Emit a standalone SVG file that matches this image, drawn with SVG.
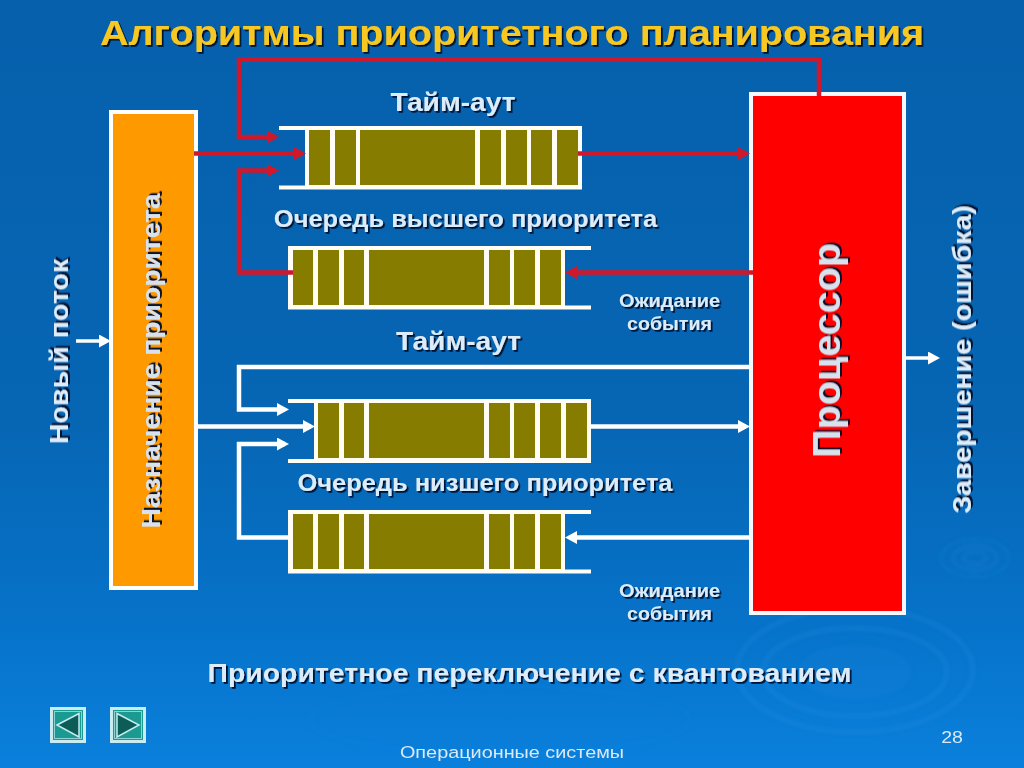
<svg xmlns="http://www.w3.org/2000/svg" width="1024" height="768" viewBox="0 0 1024 768">
<defs>
<linearGradient id="bg" x1="0" y1="0" x2="0" y2="1">
<stop offset="0" stop-color="#0660ac"/><stop offset="0.55" stop-color="#0666b4"/><stop offset="0.8" stop-color="#0672c8"/><stop offset="1" stop-color="#0a80dc"/>
</linearGradient>
<filter id="sh" x="-10%" y="-20%" width="120%" height="140%"><feDropShadow dx="1.6" dy="1.8" stdDeviation="0.5" flood-color="#00102c" flood-opacity="0.95"/></filter>
<filter id="shv" x="-30%" y="-10%" width="160%" height="120%"><feDropShadow dx="2" dy="2" stdDeviation="0.5" flood-color="#00102c" flood-opacity="0.95"/></filter>
<filter id="soft" x="-10%" y="-10%" width="120%" height="120%"><feGaussianBlur stdDeviation="2"/></filter>
<marker id="ar" markerUnits="userSpaceOnUse" markerWidth="13" markerHeight="14" refX="8" refY="6.5" orient="auto"><path d="M0 0L12 6.5L0 13Z" fill="#d0182c"/></marker>
<marker id="aw" markerUnits="userSpaceOnUse" markerWidth="13" markerHeight="14" refX="8" refY="6.5" orient="auto"><path d="M0 0L12 6.5L0 13Z" fill="#fff"/></marker>
</defs>
<style>
text{font-family:"Liberation Sans",Arial,sans-serif;font-weight:bold;fill:#dcecfa;text-anchor:middle}
.s{filter:url(#sh)}
.v{filter:url(#shv)}
.red{fill:none;stroke:#d0182c;stroke-width:4.5}
.wh{fill:none;stroke:#fff;stroke-width:4.5}
.cell{fill:#857c00}
.w{fill:#fffdf4}
.rip{fill:none;stroke:#3c9cec;stroke-width:3;opacity:.25}
.nav{fill:#1a9a90;stroke:#c8ecf0;stroke-width:3}
.navi{fill:none;stroke:#8ed0d4;stroke-width:1}
.tri{fill:#0c5c58;stroke:#c8ecf0;stroke-width:1.500}
</style>
<rect width="1024" height="768" fill="url(#bg)"/>
<g id="ripples" filter="url(#soft)">
<ellipse class="rip" cx="855" cy="672" rx="55" ry="26" style="fill:#3c9cec;opacity:.08"/>
<ellipse class="rip" cx="855" cy="672" rx="92" ry="44"/>
<ellipse class="rip" cx="855" cy="670" rx="118" ry="62"/>
<ellipse class="rip" cx="975" cy="558" rx="12" ry="6" style="opacity:.18"/>
<ellipse class="rip" cx="975" cy="558" rx="22" ry="12" style="opacity:.18"/>
<ellipse class="rip" cx="975" cy="558" rx="34" ry="19" style="opacity:.14"/>
<ellipse class="rip" cx="500" cy="720" rx="190" ry="34" style="opacity:.08"/>
</g>
<text id="title" transform="translate(512 45) scale(1.13 1)" font-size="35" style="fill:#f8c820" class="s">Алгоритмы приоритетного планирования</text>
<g id="assign"><rect x="111" y="112" width="85" height="476" fill="#ff9900" stroke="#fff" stroke-width="4"/>
<text class="v" transform="translate(160 361) rotate(-90) scale(1.131 1)" font-size="25" style="fill:#d8e2ee">Назначение приоритета</text></g>
<g id="queue-high-1">
<rect class="w" x="305" y="126" width="277" height="63.500"/><rect class="w" x="279" y="126" width="26" height="4"/><rect class="w" x="279" y="185.500" width="26" height="4"/>
<rect class="cell" x="309" y="130" width="21" height="55"/><rect class="cell" x="335" y="130" width="21" height="55"/><rect class="cell" x="360" y="130" width="115" height="55"/><rect class="cell" x="480" y="130" width="21" height="55"/><rect class="cell" x="506" y="130" width="21" height="55"/><rect class="cell" x="531" y="130" width="21" height="55"/><rect class="cell" x="557" y="130" width="21" height="55"/>
</g>
<g id="queue-high-2">
<rect class="w" x="288" y="246" width="277" height="63.500"/><rect class="w" x="565" y="246" width="26" height="4"/><rect class="w" x="565" y="305.500" width="26" height="4"/>
<rect class="cell" x="293" y="250" width="20" height="55"/><rect class="cell" x="318" y="250" width="21" height="55"/><rect class="cell" x="344" y="250" width="20" height="55"/><rect class="cell" x="369" y="250" width="115" height="55"/><rect class="cell" x="489" y="250" width="21" height="55"/><rect class="cell" x="514" y="250" width="21" height="55"/><rect class="cell" x="540" y="250" width="21" height="55"/>
</g>
<g id="queue-low-1">
<rect class="w" x="314" y="399" width="277" height="64"/><rect class="w" x="288" y="399" width="26" height="4"/><rect class="w" x="288" y="459" width="26" height="4"/>
<rect class="cell" x="318" y="403" width="21" height="55"/><rect class="cell" x="344" y="403" width="20" height="55"/><rect class="cell" x="369" y="403" width="115" height="55"/><rect class="cell" x="489" y="403" width="21" height="55"/><rect class="cell" x="514" y="403" width="21" height="55"/><rect class="cell" x="540" y="403" width="21" height="55"/><rect class="cell" x="566" y="403" width="21" height="55"/>
</g>
<g id="queue-low-2">
<rect class="w" x="288" y="510" width="277" height="63.500"/><rect class="w" x="565" y="510" width="26" height="4"/><rect class="w" x="565" y="569.500" width="26" height="4"/>
<rect class="cell" x="293" y="514" width="20" height="55"/><rect class="cell" x="318" y="514" width="21" height="55"/><rect class="cell" x="344" y="514" width="20" height="55"/><rect class="cell" x="369" y="514" width="115" height="55"/><rect class="cell" x="489" y="514" width="21" height="55"/><rect class="cell" x="514" y="514" width="21" height="55"/><rect class="cell" x="540" y="514" width="21" height="55"/>
</g>
<g id="cpu"><rect x="751" y="94" width="153" height="519" fill="#ff0000" stroke="#f4f8fc" stroke-width="4"/>
<text class="v" transform="translate(840 350.500) rotate(-90) scale(1.014 1)" font-size="39" style="fill:#d8e2ee">Процессор</text></g>
<g id="connectors">
<path class="red" d="M819 96V59.500H239V137H275" marker-end="url(#ar)"/>
<path class="red" d="M194 153.500H302" marker-end="url(#ar)"/>
<path class="red" d="M293 272.500H239V170.500H275" marker-end="url(#ar)"/>
<path class="red" d="M578 153.500H746" marker-end="url(#ar)"/>
<path class="red" d="M753 272.500H569" marker-end="url(#ar)"/>
<path class="wh" d="M750 367H239V409.500H285" marker-end="url(#aw)"/>
<path class="wh" d="M198 426.500H311" marker-end="url(#aw)"/>
<path class="wh" d="M290 537.500H239V444H285" marker-end="url(#aw)"/>
<path class="wh" d="M589 426.500H746" marker-end="url(#aw)"/>
<path class="wh" d="M750 537.500H569" marker-end="url(#aw)"/>
<path class="wh" d="M76 341H107" style="stroke-width:3.500" marker-end="url(#aw)"/>
<path class="wh" d="M906 358H936" style="stroke-width:3.500" marker-end="url(#aw)"/>
</g>
<g id="labels">
<text class="s" transform="translate(453 111) scale(1.127 1)" font-size="25">Тайм-аут</text>
<text class="s" transform="translate(465.500 227) scale(1.107 1)" font-size="23">Очередь высшего приоритета</text>
<text class="s" transform="translate(669.500 307) scale(1.11 1)" font-size="18">Ожидание</text>
<text class="s" transform="translate(669.500 330) scale(1.09 1)" font-size="18">события</text>
<text class="s" transform="translate(458.500 350) scale(1.127 1)" font-size="25">Тайм-аут</text>
<text class="s" transform="translate(485 491) scale(1.106 1)" font-size="23">Очередь низшего приоритета</text>
<text class="s" transform="translate(669.500 597) scale(1.11 1)" font-size="18">Ожидание</text>
<text class="s" transform="translate(669.500 620) scale(1.09 1)" font-size="18">события</text>
<text class="s" transform="translate(529.500 682) scale(1.136 1)" font-size="25">Приоритетное переключение с квантованием</text>
<text class="v" transform="translate(68 351.500) rotate(-90) scale(1.147 1)" font-size="25">Новый поток</text>
<text class="v" transform="translate(971 359.500) rotate(-90) scale(1.144 1)" font-size="25">Завершение (ошибка)</text>
<text transform="translate(512 758) scale(1.167 1)" font-size="17" style="font-weight:normal;fill:#dce8f4">Операционные системы</text>
<text transform="translate(952 743) scale(1.15 1)" font-size="17" style="font-weight:normal;fill:#dce8f4">28</text>
</g>
<g id="nav-prev"><rect class="nav" x="51.500" y="708.500" width="33" height="33"/><rect class="navi" x="54.500" y="711.500" width="27" height="27"/><path class="tri" d="M57 725L79 713.500V737Z"/></g>
<g id="nav-next"><rect class="nav" x="111.500" y="708.500" width="33" height="33"/><rect class="navi" x="114.500" y="711.500" width="27" height="27"/><path class="tri" d="M117 713.500L139 725L117 737Z"/></g>
</svg>
